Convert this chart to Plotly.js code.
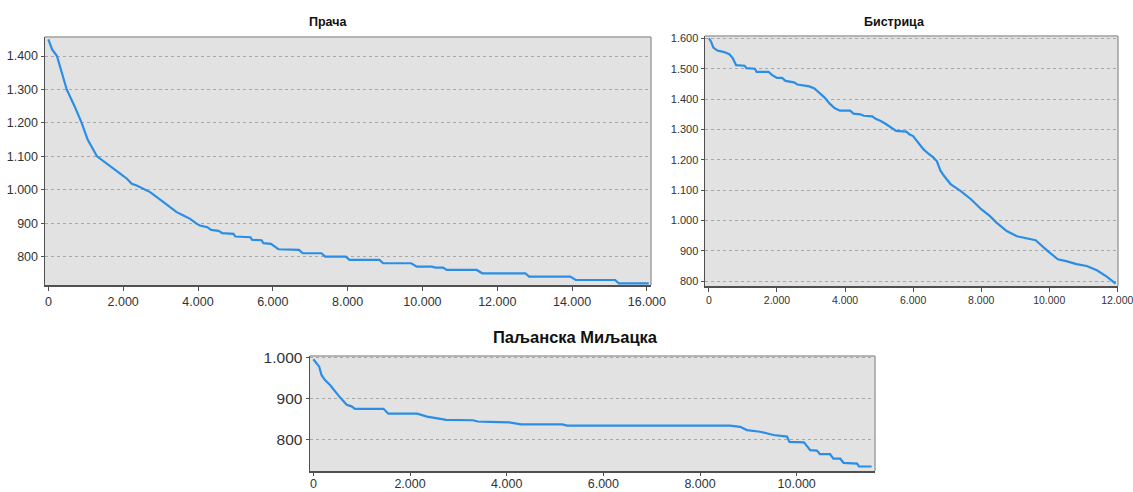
<!DOCTYPE html>
<html>
<head>
<meta charset="utf-8">
<script src="https://cdn.plot.ly/plotly-3.0.1.min.js"></script>
<style>html,body{margin:0;padding:0;background:#fff;}#chart{width:1133px;height:492px;}</style>
</head>
<body>
<div id="chart"></div>
<script>
// Titles
const titles = ["Прача", "Бистрица", "Паљанска Миљацка"];

// Прача
const pracaX = [0,100,230,350,490,700,890,1050,1160,1250,1300,1380,1560,1740,1920,2100,2230,2360,2540,2720,2900,3080,3250,3430,3610,3790,3970,4050,4250,4350,4550,4650,4950,5000,5400,5450,5700,5750,5950,6050,6150,6700,6800,7300,7400,7950,8050,8850,8950,9700,9850,10250,10350,10550,10650,11450,11600,12750,12850,13950,14100,15150,15250,16050];
const pracaY = [1450,1420,1400,1350,1300,1250,1200,1150,1130,1110,1100,1093,1078,1063,1048,1033,1018,1013,1003,993,978,963,948,933,923,913,898,893,888,880,877,870,868,860,858,850,849,840,838,830,822,820,810,810,800,800,790,790,780,780,770,770,767,767,760,760,750,750,740,740,730,730,720,720];

// Бистрица
const bistX = [0,60,130,250,450,600,700,800,1050,1100,1350,1400,1750,1850,2000,2150,2250,2500,2600,2750,2950,3100,3250,3400,3550,3700,3850,4150,4250,4450,4550,4800,4900,5050,5200,5350,5500,5800,5900,6000,6150,6300,6450,6600,6700,6800,6900,7100,7400,7700,8000,8250,8450,8750,9050,9350,9600,9950,10250,10500,10800,11100,11400,11700,11950];
const bistY = [1600,1590,1570,1560,1555,1548,1535,1512,1510,1502,1500,1490,1490,1480,1470,1470,1460,1455,1448,1445,1442,1435,1420,1405,1385,1370,1362,1362,1352,1350,1345,1343,1335,1328,1318,1305,1295,1293,1283,1278,1258,1235,1220,1207,1195,1165,1148,1120,1097,1070,1037,1015,993,965,948,940,935,900,872,866,856,850,836,814,792];

// Паљанска Миљацка
const miljX = [0,70,120,170,240,345,450,550,690,790,860,1450,1550,2150,2350,2550,2750,3300,3400,3650,4050,4300,5150,5250,8620,8830,8970,9240,9520,9800,9850,10150,10280,10420,10480,10690,10760,10900,10970,11250,11290,11550];
const miljY = [995,985,977,956,944,932,916,902,884,880,874,874,862,862,855,851,847,846,843,842,841,836,836,833,833,830,822,818,810,806,793,792,773,772,763,763,752,752,742,740,733,733];

// Tick values
const pracaYTicks = [800,900,1000,1100,1200,1300,1400];
const pracaXTicks = [0,2000,4000,6000,8000,10000,12000,14000,16000];
const bistYTicks = [800,900,1000,1100,1200,1300,1400,1500,1600];
const bistXTicks = [0,2000,4000,6000,8000,10000,12000];
const miljYTicks = [800,900,1000];
const miljXTicks = [0,2000,4000,6000,8000,10000];

const W = 1133, H = 492;
const px = v => v / W;
const py = v => 1 - v / H;

const lineColor = '#2a8ee6';
const tr = (x, y, ax) => ({
  x: x, y: y, type: 'scatter', mode: 'lines',
  xaxis: 'x' + ax, yaxis: 'y' + ax,
  line: {color: lineColor, width: 2.2},
  hoverinfo: 'skip', showlegend: false
});

const fontFam = '"Liberation Sans", Arial, sans-serif';
function xax(domain, range, ticks, size, anchor, ticklen, standoff) {
  return {domain: domain, range: range, tickvals: ticks, tickformat: ',d',
    showgrid: false, zeroline: false, showline: true, linecolor: '#505050', linewidth: 1.5,
    ticks: 'outside', ticklen: ticklen, tickcolor: '#505050', tickwidth: 1,
    ticklabeloverflow: 'allow', ticklabelstandoff: standoff,
    tickfont: {family: fontFam, size: size, color: '#333'}, anchor: anchor, fixedrange: true};
}
function yax(domain, range, ticks, size, anchor) {
  return {domain: domain, range: range, tickvals: ticks, tickformat: ',d',
    showgrid: true, gridcolor: '#a8a8a8', griddash: 'dot', gridwidth: 1,
    zeroline: false, showline: true, linecolor: '#505050', linewidth: 1.5,
    ticks: 'outside', ticklen: 3, tickcolor: '#505050', tickwidth: 1,
    ticklabeloverflow: 'allow',
    tickfont: {family: fontFam, size: size, color: '#333'}, anchor: anchor, fixedrange: true};
}

const boxes = [[45,37,651,285],[705,36,1118,286],[310,356,875,471]];
const shapes = [];
boxes.forEach(b => {
  shapes.push({type: 'line', xref: 'paper', yref: 'paper', x0: px(b[0]), x1: px(b[2]), y0: py(b[1]), y1: py(b[1]), line: {color: '#a0a0a0', width: 1.5}});
  shapes.push({type: 'line', xref: 'paper', yref: 'paper', x0: px(b[2]), x1: px(b[2]), y0: py(b[1]), y1: py(b[3]), line: {color: '#a0a0a0', width: 1.5}});
});

const layout = {
  width: W, height: H,
  margin: {l: 0, r: 0, t: 0, b: 0},
  paper_bgcolor: '#ffffff', plot_bgcolor: '#e2e2e2',
  separators: ',.',
  showlegend: false,
  xaxis: xax([px(45), px(651)], [-90, 16110], pracaXTicks, 12.5, 'y', 4, 0),
  yaxis: yax([py(285), py(37)], [715, 1457], pracaYTicks, 12.5, 'x'),
  xaxis2: xax([px(705), px(1118)], [-115, 12020], bistXTicks, 10.5, 'y2', 4, 0),
  yaxis2: yax([py(286), py(36)], [784, 1608], bistYTicks, 11, 'x2'),
  xaxis3: xax([px(310), px(875)], [-70, 11620], miljXTicks, 12.5, 'y3', 3, -3),
  yaxis3: yax([py(471), py(356)], [722, 1003], miljYTicks, 15.5, 'x3'),
  shapes: shapes,
  annotations: [
    {text: '<b>' + titles[0] + '</b>', xref: 'paper', yref: 'paper', x: px(328), y: py(22), showarrow: false, xanchor: 'center', yanchor: 'middle', font: {family: fontFam, size: 12.5, color: '#111'}},
    {text: '<b>' + titles[1] + '</b>', xref: 'paper', yref: 'paper', x: px(894), y: py(22), showarrow: false, xanchor: 'center', yanchor: 'middle', font: {family: fontFam, size: 12.5, color: '#111'}},
    {text: '<b>' + titles[2] + '</b>', xref: 'paper', yref: 'paper', x: px(575), y: py(337), showarrow: false, xanchor: 'center', yanchor: 'middle', font: {family: fontFam, size: 16.5, color: '#111'}}
  ]
};

Plotly.newPlot('chart', [tr(pracaX, pracaY, ''), tr(bistX, bistY, '2'), tr(miljX, miljY, '3')], layout, {displayModeBar: false, staticPlot: true});
</script>
</body>
</html>
